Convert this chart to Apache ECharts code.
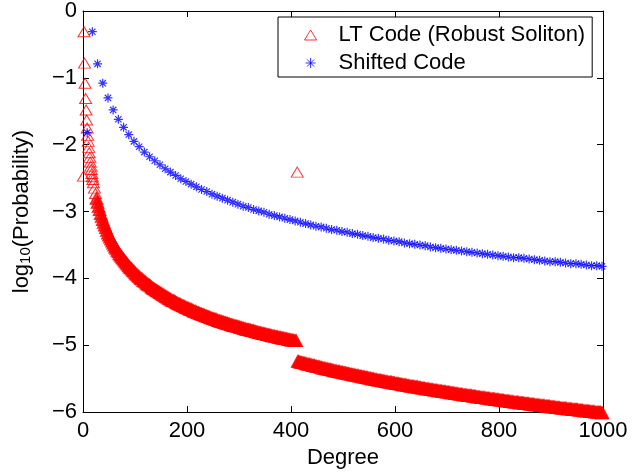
<!DOCTYPE html>
<html>
<head>
<meta charset="utf-8">
<script src="https://cdn.jsdelivr.net/npm/echarts@6.0.0/dist/echarts.min.js"></script>
<style>
html,body{margin:0;padding:0;background:#fff;}
#chart{width:643px;height:474px;}
</style>
</head>
<body>
<div id="chart"></div>
<script>
// ---------- data ----------
function range(a, b, step) { var r = []; for (var v = a; v <= b; v += step) r.push(v); return r; }

// LT code (robust soliton) degrees: 1..20, even 22..410, spike 412, odd 413..999
var ltDegrees = [].concat(range(1, 20, 1), range(22, 410, 2), [412], range(413, 999, 2));
var ltLog10Prob = [
  // 1..20
  -2.47,-0.31,-0.78,-1.08,-1.31,-1.48,-1.63,-1.75,-1.86,-1.95,
  -2.04,-2.12,-2.19,-2.26,-2.32,-2.37,-2.43,-2.48,-2.52,-2.57,
  // 22..100 step 2
  -2.65,-2.73,-2.80,-2.86,-2.92,-2.97,-3.03,-3.07,-3.12,-3.16,
  -3.20,-3.24,-3.28,-3.32,-3.35,-3.38,-3.41,-3.44,-3.47,-3.50,
  -3.53,-3.55,-3.58,-3.60,-3.63,-3.65,-3.67,-3.69,-3.71,-3.73,
  -3.75,-3.77,-3.79,-3.81,-3.83,-3.84,-3.86,-3.88,-3.89,-3.91,
  // 102..200 step 2
  -3.93,-3.94,-3.96,-3.97,-3.99,-4.00,-4.01,-4.03,-4.04,-4.05,
  -4.07,-4.08,-4.09,-4.10,-4.11,-4.13,-4.14,-4.15,-4.16,-4.17,
  -4.18,-4.19,-4.20,-4.21,-4.22,-4.23,-4.24,-4.25,-4.26,-4.27,
  -4.28,-4.29,-4.30,-4.31,-4.32,-4.33,-4.33,-4.34,-4.35,-4.36,
  -4.37,-4.38,-4.38,-4.39,-4.40,-4.41,-4.41,-4.42,-4.43,-4.44,
  // 202..300 step 2
  -4.44,-4.45,-4.46,-4.46,-4.47,-4.48,-4.49,-4.49,-4.50,-4.51,
  -4.51,-4.52,-4.53,-4.53,-4.54,-4.54,-4.55,-4.56,-4.56,-4.57,
  -4.57,-4.58,-4.59,-4.59,-4.60,-4.60,-4.61,-4.61,-4.62,-4.63,
  -4.63,-4.64,-4.64,-4.65,-4.65,-4.66,-4.66,-4.67,-4.67,-4.68,
  -4.68,-4.69,-4.69,-4.70,-4.70,-4.71,-4.71,-4.71,-4.72,-4.72,
  // 302..410 step 2
  -4.73,-4.73,-4.74,-4.74,-4.75,-4.75,-4.76,-4.76,-4.76,-4.77,
  -4.77,-4.78,-4.78,-4.78,-4.79,-4.79,-4.80,-4.80,-4.81,-4.81,
  -4.81,-4.82,-4.82,-4.82,-4.83,-4.83,-4.84,-4.84,-4.84,-4.85,
  -4.85,-4.86,-4.86,-4.86,-4.87,-4.87,-4.87,-4.88,-4.88,-4.88,
  -4.89,-4.89,-4.89,-4.90,-4.90,-4.90,-4.91,-4.91,-4.91,-4.92,
  -4.92,-4.92,-4.93,-4.93,-4.93,
  // spike at 412
  -2.41,
  // 413..999 step 2
  -5.24,-5.24,-5.25,-5.25,-5.26,-5.26,-5.26,-5.27,-5.27,-5.28,
  -5.28,-5.28,-5.29,-5.29,-5.30,-5.30,-5.30,-5.31,-5.31,-5.32,
  -5.32,-5.32,-5.33,-5.33,-5.34,-5.34,-5.34,-5.35,-5.35,-5.35,
  -5.36,-5.36,-5.36,-5.37,-5.37,-5.38,-5.38,-5.38,-5.39,-5.39,
  -5.39,-5.40,-5.40,-5.40,-5.41,-5.41,-5.41,-5.42,-5.42,-5.42,
  -5.43,-5.43,-5.43,-5.44,-5.44,-5.44,-5.45,-5.45,-5.45,-5.46,
  -5.46,-5.46,-5.47,-5.47,-5.47,-5.48,-5.48,-5.48,-5.49,-5.49,
  -5.49,-5.50,-5.50,-5.50,-5.51,-5.51,-5.51,-5.52,-5.52,-5.52,
  -5.52,-5.53,-5.53,-5.53,-5.54,-5.54,-5.54,-5.55,-5.55,-5.55,
  -5.55,-5.56,-5.56,-5.56,-5.57,-5.57,-5.57,-5.57,-5.58,-5.58,
  -5.58,-5.59,-5.59,-5.59,-5.59,-5.60,-5.60,-5.60,-5.61,-5.61,
  -5.61,-5.61,-5.62,-5.62,-5.62,-5.62,-5.63,-5.63,-5.63,-5.64,
  -5.64,-5.64,-5.64,-5.65,-5.65,-5.65,-5.65,-5.66,-5.66,-5.66,
  -5.66,-5.67,-5.67,-5.67,-5.67,-5.68,-5.68,-5.68,-5.68,-5.69,
  -5.69,-5.69,-5.69,-5.70,-5.70,-5.70,-5.70,-5.71,-5.71,-5.71,
  -5.71,-5.72,-5.72,-5.72,-5.72,-5.73,-5.73,-5.73,-5.73,-5.74,
  -5.74,-5.74,-5.74,-5.75,-5.75,-5.75,-5.75,-5.75,-5.76,-5.76,
  -5.76,-5.76,-5.77,-5.77,-5.77,-5.77,-5.78,-5.78,-5.78,-5.78,
  -5.78,-5.79,-5.79,-5.79,-5.79,-5.80,-5.80,-5.80,-5.80,-5.80,
  -5.81,-5.81,-5.81,-5.81,-5.82,-5.82,-5.82,-5.82,-5.82,-5.83,
  -5.83,-5.83,-5.83,-5.83,-5.84,-5.84,-5.84,-5.84,-5.85,-5.85,
  -5.85,-5.85,-5.85,-5.86,-5.86,-5.86,-5.86,-5.86,-5.87,-5.87,
  -5.87,-5.87,-5.87,-5.88,-5.88,-5.88,-5.88,-5.88,-5.89,-5.89,
  -5.89,-5.89,-5.89,-5.90,-5.90,-5.90,-5.90,-5.90,-5.91,-5.91,
  -5.91,-5.91,-5.91,-5.92,-5.92,-5.92,-5.92,-5.92,-5.93,-5.93,
  -5.93,-5.93,-5.93,-5.94,-5.94,-5.94,-5.94,-5.94,-5.94,-5.95,
  -5.95,-5.95,-5.95,-5.95,-5.96,-5.96,-5.96,-5.96,-5.96,-5.96,
  -5.97,-5.97,-5.97,-5.97,-5.97,-5.98,-5.98,-5.98,-5.98,-5.98,
  -5.98,-5.99,-5.99,-5.99,-5.99,-5.99,-6.00,-6.00,-6.00,-6.00,
  -6.00,-6.00,-6.01,-6.01
];

// Shifted code: degrees 8, 18, ..., 998
var shiftedDegrees = range(8, 998, 10);
var shiftedLog10Prob = [
  -1.82,-0.31,-0.79,-1.08,-1.30,-1.48,-1.62,-1.74,-1.85,-1.95,
  -2.03,-2.11,-2.18,-2.24,-2.30,-2.36,-2.41,-2.46,-2.51,-2.55,
  -2.59,-2.63,-2.67,-2.70,-2.74,-2.77,-2.80,-2.83,-2.86,-2.89,
  -2.92,-2.94,-2.97,-2.99,-3.01,-3.04,-3.06,-3.08,-3.10,-3.12,
  -3.14,-3.16,-3.18,-3.20,-3.22,-3.23,-3.25,-3.27,-3.28,-3.30,
  -3.31,-3.33,-3.34,-3.36,-3.37,-3.39,-3.40,-3.41,-3.43,-3.44,
  -3.45,-3.47,-3.48,-3.49,-3.50,-3.51,-3.53,-3.54,-3.55,-3.56,
  -3.57,-3.58,-3.59,-3.60,-3.61,-3.62,-3.63,-3.64,-3.65,-3.66,
  -3.67,-3.68,-3.69,-3.69,-3.70,-3.71,-3.72,-3.73,-3.74,-3.75,
  -3.75,-3.76,-3.77,-3.78,-3.78,-3.79,-3.80,-3.81,-3.81,-3.82
];

var seriesNames = ['LT Code (Robust Soliton)', 'Shifted Code'];
var xTicks = { min: 0, max: 1000, interval: 200 };
var yTicks = { min: -6, max: 0, interval: 1 };

// ---------- chart ----------
var FONT = 'Liberation Sans';
var FS = 22;
var RED = '#ff0000', BLUE = '#0000ff';
var triPath = 'path://M5,0L10,8.2L0,8.2Z';
var starPath = 'path://M5,0L5,10M0,5L10,5M1.5,1.5L8.5,8.5M8.5,1.5L1.5,8.5';

// dense band of overlapping triangles merges into a solid red ribbon
function ltData() {
  var out = [];
  for (var i = 0; i < Math.min(ltDegrees.length, ltLog10Prob.length); i++) {
    var d = ltDegrees[i];
    var item = { value: [d, ltLog10Prob[i]] };
    if (d >= 26 && d !== 412) { item.itemStyle = { color: RED }; item.symbolSize = [13, 12]; }
    out.push(item);
  }
  return out;
}
function pairs(xs, ys) { var out = []; for (var i = 0; i < Math.min(xs.length, ys.length); i++) out.push([xs[i], ys[i]]); return out; }

function axisCommon(pos, showLabel) {
  return {
    type: 'value', position: pos,
    axisLine: { show: true, onZero: false, lineStyle: { color: '#000', width: 1 } },
    axisTick: { show: true, inside: true, length: 6, lineStyle: { color: '#000', width: 1 } },
    splitLine: { show: false },
    axisLabel: { show: showLabel, color: '#000', fontSize: FS, fontFamily: FONT },
  };
}

var xBottom = Object.assign(axisCommon('bottom', true), xTicks, {
  name: 'Degree', nameLocation: 'middle', nameGap: 30,
  nameTextStyle: { color: '#000', fontSize: FS, fontFamily: FONT }
});
xBottom.axisLabel.margin = 8;
xBottom.axisLabel.formatter = function (v) { return String(v); };
var xTop = Object.assign(axisCommon('top', false), xTicks);

var yLeft = Object.assign(axisCommon('left', true), yTicks, {
  name: '{n|log}{s|10}{n|(Probability)}', nameLocation: 'middle', nameGap: 50, nameRotate: 90,
  nameTextStyle: {
    color: '#000', fontFamily: FONT,
    rich: {
      n: { fontSize: FS, fontFamily: FONT, color: '#000', verticalAlign: 'bottom' },
      s: { fontSize: 15, fontFamily: FONT, color: '#000', verticalAlign: 'bottom', padding: [14, 0, 0, 0] }
    }
  }
});
yLeft.axisLabel.margin = 6;
yLeft.axisLabel.formatter = function (v) { return v < 0 ? '\u2212' + (-v) : String(v); };
var yRight = Object.assign(axisCommon('right', false), yTicks);

var chart = echarts.init(document.getElementById('chart'), null, { renderer: 'canvas' });
chart.setOption({
  animation: false,
  backgroundColor: '#fff',
  textStyle: { fontFamily: FONT },
  grid: { left: 83, right: 40, top: 10, bottom: 55, containLabel: false },
  xAxis: [xBottom, xTop],
  yAxis: [yLeft, yRight],
  legend: {
    left: 278, top: 17, orient: 'vertical',
    backgroundColor: '#fff', borderColor: '#000', borderWidth: 1,
    padding: [7, 7, 3, 26], itemWidth: 46, itemHeight: 10, itemGap: 6,
    textStyle: { fontSize: FS, color: '#000', fontFamily: FONT },
    itemStyle: { borderWidth: 1 },
    data: seriesNames
  },
  series: [
    {
      name: seriesNames[0], type: 'scatter', xAxisIndex: 0, yAxisIndex: 0,
      data: ltData(),
      symbol: triPath, symbolSize: [12, 10], clip: false, progressive: 0,
      itemStyle: { color: 'rgba(255,0,0,0)', borderColor: RED, borderWidth: 1 },
      emphasis: { disabled: true }
    },
    {
      name: seriesNames[1], type: 'scatter', xAxisIndex: 0, yAxisIndex: 0,
      data: pairs(shiftedDegrees, shiftedLog10Prob),
      symbol: starPath, symbolSize: 9, clip: false, progressive: 0,
      itemStyle: { color: BLUE, borderColor: BLUE, borderWidth: 1.2 },
      emphasis: { disabled: true }
    }
  ]
});
</script>
</body>
</html>
